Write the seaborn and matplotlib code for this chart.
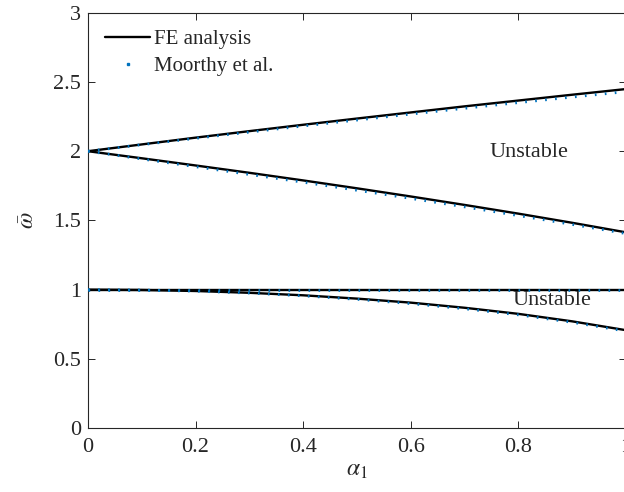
import numpy as np
import pandas as pd
import matplotlib
matplotlib.use("Agg")
import matplotlib.pyplot as plt
from matplotlib.lines import Line2D
import seaborn as sns

# Excitation amplitude
alpha = [0.0, 0.1, 0.2, 0.3, 0.4, 0.5, 0.6, 0.7, 0.8, 0.9, 1.0]

# FE analysis: boundaries of the instability regions
fe_upper_hi = [2.0, 2.049, 2.098, 2.145, 2.191, 2.236, 2.280, 2.324, 2.366, 2.408, 2.449]
fe_upper_lo = [2.0, 1.949, 1.897, 1.844, 1.789, 1.732, 1.673, 1.612, 1.549, 1.483, 1.414]
fe_lower_hi = [1.0, 1.0, 1.0, 1.0, 1.0, 1.0, 1.0, 1.0, 1.0, 1.0, 1.0]
fe_lower_lo = [1.0, 0.9975, 0.990, 0.977, 0.959, 0.935, 0.906, 0.869, 0.825, 0.771, 0.707]

# Moorthy et al.
mo_upper_hi = [2.0, 2.047, 2.093, 2.138, 2.182, 2.225, 2.268, 2.310, 2.351, 2.391, 2.430]
mo_upper_lo = [2.0, 1.944, 1.888, 1.832, 1.776, 1.718, 1.659, 1.598, 1.535, 1.471, 1.405]
mo_lower_hi = [1.0, 1.0, 1.0, 1.0, 1.0, 1.0, 1.0, 1.0, 1.0, 1.0, 1.0]
mo_lower_lo = [1.0, 0.997, 0.989, 0.975, 0.955, 0.930, 0.899, 0.862, 0.818, 0.764, 0.700]

x_ticks = [0, 0.2, 0.4, 0.6, 0.8, 1]
x_ticklabels = ["0", "0.2", "0.4", "0.6", "0.8", "1"]
y_ticks = [0, 0.5, 1, 1.5, 2, 2.5, 3]
y_ticklabels = ["0", "0.5", "1", "1.5", "2", "2.5", "3"]

sns.set_style("ticks")
plt.rcParams["font.family"] = ["Liberation Serif", "DejaVu Serif"]
plt.rcParams["mathtext.fontset"] = "stix"
plt.rcParams["xtick.direction"] = "in"
plt.rcParams["ytick.direction"] = "in"

blue = "#0072BD"

fig = plt.figure(figsize=(6.24, 4.92), dpi=100)
ax = fig.add_axes([0.141, 0.130, 0.862, 0.844])

for ys in [fe_upper_hi, fe_upper_lo, fe_lower_hi, fe_lower_lo]:
    sns.lineplot(x=alpha, y=ys, ax=ax, color="black", linewidth=1.7, zorder=2)
for ys in [mo_upper_hi, mo_upper_lo, mo_lower_hi, mo_lower_lo]:
    sns.lineplot(x=alpha, y=ys, ax=ax, color=blue, linewidth=2.0,
                 linestyle=(0, (0.6, 3.0)), zorder=3)

ax.set_xlim(0, 1)
ax.set_ylim(0, 3)
ax.set_xticks(x_ticks)
ax.set_xticklabels(x_ticklabels)
ax.set_yticks(y_ticks)
ax.set_yticklabels(y_ticklabels)
ax.tick_params(axis="both", labelsize=16, length=5, width=0.7, colors="#262626",
               top=True, right=True)
ax.tick_params(axis="x", pad=7)
ax.tick_params(axis="y", pad=5)
for s in ax.spines.values():
    s.set_linewidth(0.8)
    s.set_color("#262626")

ax.set_xlabel(r"$\alpha_1$", fontsize=17, labelpad=2)
ax.set_ylabel(r"$\bar{\omega}$", fontsize=17, labelpad=10)

ax.text(0.82, 1.99, "Unstable", fontsize=16, ha="center", va="center")
ax.text(0.862, 0.92, "Unstable", fontsize=16, ha="center", va="center")

handles = [
    Line2D([], [], color="black", linewidth=1.7),
    Line2D([], [], color=blue, linestyle="none", marker="s", markersize=1.6),
]
ax.legend(handles, ["FE analysis", "Moorthy et al."], loc="upper left",
          frameon=False, fontsize=15, handlelength=2.2, handletextpad=0.15,
          borderaxespad=0.5, labelspacing=0.35, borderpad=0.3)

fig.savefig("out.png", dpi=100)
